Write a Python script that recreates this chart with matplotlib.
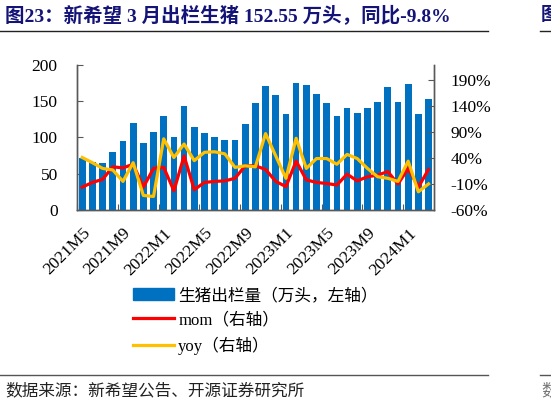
import matplotlib
matplotlib.use("Agg")
import matplotlib.pyplot as plt
import numpy as np
from matplotlib.patches import Patch
from matplotlib.lines import Line2D

months = ["2021M5","2021M6","2021M7","2021M8","2021M9","2021M10","2021M11","2021M12",
          "2022M1","2022M2","2022M3","2022M4","2022M5","2022M6","2022M7","2022M8",
          "2022M9","2022M10","2022M11","2022M12","2023M1","2023M2","2023M3","2023M4",
          "2023M5","2023M6","2023M7","2023M8","2023M9","2023M10","2023M11","2023M12",
          "2024M1","2024M2","2024M3"]
output = [72, 66, 65, 80, 95, 120, 92, 108,
          130, 100, 143, 114, 106, 100, 96, 96,
          118, 147, 171, 158, 132, 175, 172, 160,
          147, 129, 140, 134, 140, 149, 170, 149,
          174, 133, 152.55]
mom = [-16, -7, -1, 23, 21, 28, -16, 20,
       22, -23, 44, -21, -7, -5, -4, 1,
       25, 25, 18, -5, -15, 34, -2, -7,
       -9, -12, 9, -4, 4, 7, 14, -10,
       20, -16, 18]
yoy = [41, 31, 20, 17, -5, 31, -32, -34,
       77, 41, 67, 35, 51, 52, 48, 22,
       25, 23, 87, 44, 1, 78, 20, 39,
       39, 28, 47, 39, 20, 4, 1, -5,
       34, -25, -9.8]
tick_labels = months[::4]

serif = ["Liberation Serif", "Noto Sans CJK SC"]
plt.rcParams["font.family"] = serif

fig = plt.figure(figsize=(5.51, 4.05), dpi=100)
ax = fig.add_axes([0.140, 0.4815, 0.647, 0.358])
ax2 = ax.twinx()

x = np.arange(len(months))
ax.bar(x, output, width=0.66, color="#0070C0", zorder=2)
ax2.plot(x, [v / 100 for v in mom], color="#FF0000", lw=2.3, zorder=3)
ax2.plot(x, [v / 100 for v in yoy], color="#FFC000", lw=2.3, zorder=3)

ax.set_zorder(1)
ax2.set_zorder(2)
ax.patch.set_visible(False)

ax.set_xlim(-0.5, len(months) - 0.5)
ax.set_ylim(0, 200)
ax.set_yticks([0, 50, 100, 150, 200])
ax2.set_ylim(-0.6, 2.19)
ax2.set_yticks([-0.6, -0.1, 0.4, 0.9, 1.4, 1.9])
ax2.set_yticklabels(["-60%", "-10%", "40%", "90%", "140%", "190%"])

ax.set_xticks(np.arange(-0.5, len(months), 4))
ax.set_xticklabels([])
ax.set_xticks(x[::4], minor=True)
ax.set_xticklabels(tick_labels, minor=True, rotation=45, ha="right", va="top",
                   rotation_mode="anchor")
ax.tick_params(axis="x", which="minor", length=0, pad=11, labelsize=12.5)
ax.tick_params(axis="x", which="major", direction="in", length=4, color="#595959")
ax.tick_params(axis="y", direction="in", length=4, pad=14, labelsize=12.5, color="#595959")
ax2.tick_params(axis="y", direction="in", length=4, pad=12, labelsize=12.5, color="#595959")

for a in (ax, ax2):
    a.spines["top"].set_visible(False)
    for s in ("left", "right", "bottom"):
        a.spines[s].set_color("#595959")
        a.spines[s].set_linewidth(1.0)

handles = [Patch(facecolor="#0070C0", edgecolor="#0070C0"),
           Line2D([], [], color="#FF0000", lw=2.3),
           Line2D([], [], color="#FFC000", lw=2.3)]
labels = ["生猪出栏量（万头，左轴）", "mom（右轴）", "yoy（右轴）"]
fig.legend(handles, labels, loc="upper left", bbox_to_anchor=(0.2414, 0.289),
           frameon=False, fontsize=12, handlelength=2.46, handleheight=0.75,
           handletextpad=0.25, labelspacing=0.5, borderpad=0, borderaxespad=0)

fig.text(0.009, 0.962, "图23：新希望 3 月出栏生猪 152.55 万头，同比-9.8%",
         fontsize=14, fontweight="bold", color="#141478", va="center", ha="left")
fig.add_artist(Line2D([0, 0.886], [0.923, 0.923], color="#222222", lw=1.0))
fig.add_artist(Line2D([0.980, 1.0], [0.923, 0.923], color="#222222", lw=1.0))
fig.text(0.981, 0.962, "图", fontsize=13, fontweight="bold", color="#141478",
         va="center", ha="left")

fig.add_artist(Line2D([0, 0.886], [0.074, 0.074], color="#555555", lw=1.0))
fig.add_artist(Line2D([0.980, 1.0], [0.074, 0.074], color="#555555", lw=1.0))
fig.text(0.009, 0.035, "数据来源：新希望公告、开源证券研究所", fontsize=12,
         color="#222222", va="center", ha="left")
fig.text(0.983, 0.035, "数", fontsize=12, color="#777777", va="center", ha="left")

fig.savefig("out.png", dpi=100)
